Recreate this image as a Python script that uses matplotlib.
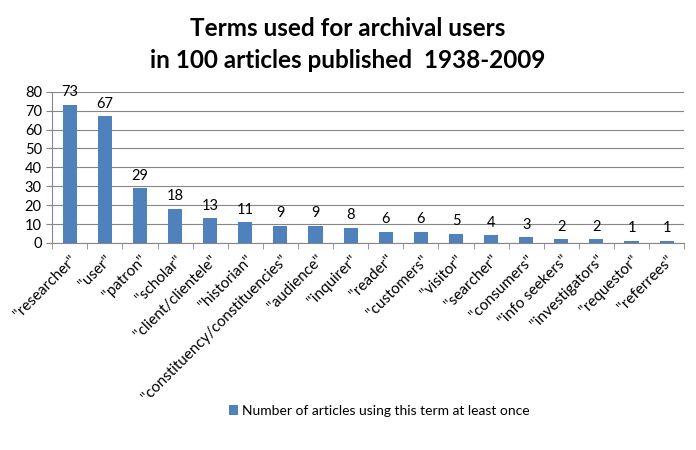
import matplotlib.pyplot as plt
import numpy as np

terms = ['"researcher"', '"user"', '"patron"', '"scholar"', '"client/clientele"',
         '"historian"', '"constituency/constituencies"', '"audience"', '"inquirer"',
         '"reader"', '"customers"', '"visitor"', '"searcher"', '"consumers"',
         '"info seekers"', '"investigators"', '"requestor"', '"referrees"']
counts = [73, 67, 29, 18, 13, 11, 9, 9, 8, 6, 6, 5, 4, 3, 2, 2, 1, 1]
series_name = "Number of articles using this term at least once"

plt.rcParams["font.family"] = ["Lato", "DejaVu Sans"]

fig = plt.figure(figsize=(6.96, 4.5), dpi=100)
ax = fig.add_axes([0.075, 0.46, 0.908, 0.336])

x = np.arange(len(terms))
ax.bar(x, counts, width=0.4, color="#4F81BD", label=series_name, zorder=3)
for xi, v in zip(x, counts):
    ax.text(xi, v + 3, str(v), ha="center", va="bottom", fontsize=10.5)

ax.set_xlim(-0.5, len(terms) - 0.5)
ax.set_ylim(0, 80)
ax.set_yticks(range(0, 81, 10))
ax.tick_params(axis="y", labelsize=10.5, length=4, color="#868686")
ax.set_xticks(x)
ax.set_xticklabels(terms, rotation=45, ha="right", rotation_mode="anchor",
                   fontsize=11)
ax.tick_params(axis="x", length=0, pad=7)
ax.set_xticks(np.arange(-0.5, len(terms), 1), minor=True)
ax.tick_params(axis="x", which="minor", length=4, color="#868686")
ax.grid(axis="y", color="#868686", linewidth=0.8, zorder=0)
for s in ["top", "right"]:
    ax.spines[s].set_visible(False)
for s in ["left", "bottom"]:
    ax.spines[s].set_color("#868686")

fig.suptitle("Terms used for archival users\nin 100 articles published  1938-2009",
             x=0.5, y=0.962, fontsize=17.5, fontweight="bold", linespacing=1.45)

fig.legend(loc="center", bbox_to_anchor=(0.545, 0.087), frameon=False, fontsize=10,
           handlelength=0.7, handleheight=0.7, handletextpad=0.3)

fig.savefig("out.png", dpi=100)
